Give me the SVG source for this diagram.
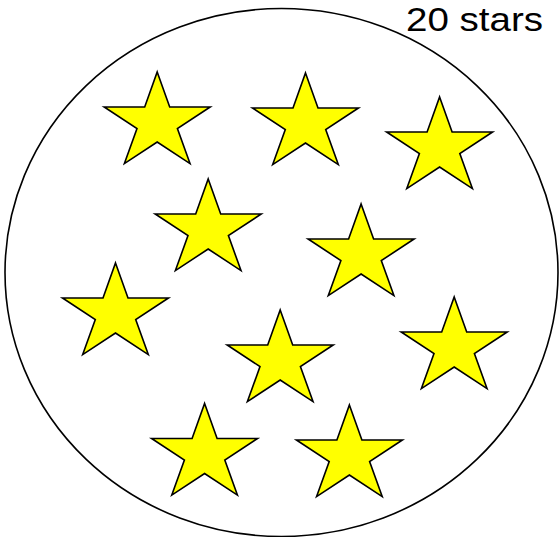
<svg xmlns="http://www.w3.org/2000/svg" xmlns:xlink="http://www.w3.org/1999/xlink" width="559" height="537" viewBox="0 0 559 537">
<style>
.ring{fill:none;stroke:#000;stroke-width:1.6}
.star{fill:#ffff00;stroke:#000;stroke-width:1.6;stroke-linejoin:miter}
.lbl{font-family:"Liberation Sans",Arial,sans-serif;font-size:34px;fill:#000}
</style>
<defs>
<path id="star" d="M0,0 L12.5,35 L53,35 L20.2,56.6 L32.8,91.6 L0,70 L-32.8,91.6 L-20.2,56.6 L-53,35 L-12.5,35 Z"/>
</defs>
<rect width="559" height="537" fill="#fff"/>
<g id="set">
<ellipse class="ring" cx="281.5" cy="272.5" rx="276.5" ry="264"/>
</g>
<g id="label"><text class="lbl" x="406" y="31" textLength="137" lengthAdjust="spacingAndGlyphs">20 stars</text></g>
<g id="star1"><use xlink:href="#star" href="#star" class="star" x="157.2" y="72"/></g>
<g id="star2"><use xlink:href="#star" href="#star" class="star" x="305.5" y="73"/></g>
<g id="star3"><use xlink:href="#star" href="#star" class="star" x="439.6" y="97"/></g>
<g id="star4"><use xlink:href="#star" href="#star" class="star" x="208.2" y="179"/></g>
<g id="star5"><use xlink:href="#star" href="#star" class="star" x="361.1" y="204"/></g>
<g id="star6"><use xlink:href="#star" href="#star" class="star" x="115.5" y="263"/></g>
<g id="star7"><use xlink:href="#star" href="#star" class="star" x="280.2" y="310"/></g>
<g id="star8"><use xlink:href="#star" href="#star" class="star" x="454.2" y="297"/></g>
<g id="star9"><use xlink:href="#star" href="#star" class="star" x="204.6" y="403.5"/></g>
<g id="star10"><use xlink:href="#star" href="#star" class="star" x="349.4" y="405"/></g>
<g id="connectors"/>
</svg>
